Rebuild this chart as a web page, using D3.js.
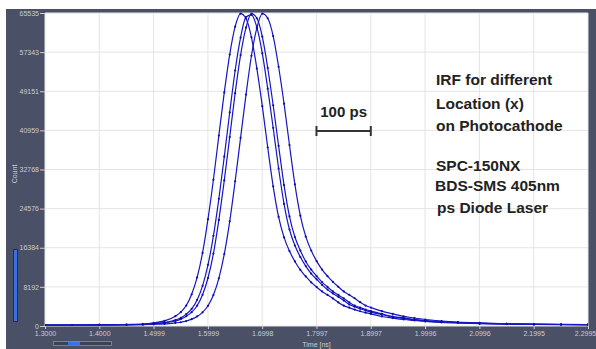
<!DOCTYPE html>
<html><head><meta charset="utf-8">
<script src="https://cdn.jsdelivr.net/npm/d3@7"></script>
<style>body{margin:0;background:#fff}svg{display:block}</style>
</head><body><svg id="c" width="596" height="349"></svg>
<script>
const times = [1.30,1.35,1.40,1.45,1.48,1.50,1.52,1.54,
 1.55,1.56,1.57,1.58,1.59,1.60,1.61,1.62,1.63,1.64,1.65,1.66,1.67,1.68,1.69,1.70,1.71,1.72,1.73,1.74,
 1.75,1.76,1.77,1.78,1.79,1.80,1.81,1.82,1.83,1.84,1.85,1.86,1.87,1.88,1.89,1.90,
 1.92,1.94,1.96,1.98,2.00,2.03,2.06,2.10,2.15,2.20,2.25,2.2995];
const irf1 = [200,210,230,310,420,650,1060,2050,
 2900,4280,6640,10180,15290,22370,30620,39870,48910,56840,62670,65400,64380,60440,53890,46020,37370,29250,22830,18570,
 15680,13520,11750,10370,9130,8150,7230,6510,5770,4930,4260,3830,3430,3090,2790,2530,
 1990,1660,1360,1150,960,740,635,490,400,335,300,280];
const irf2 = [195,210,215,270,370,485,730,1260,
 1710,2480,3600,5460,8410,12800,18890,26630,35470,44710,53500,60380,64700,65150,62540,57100,49690,41500,32980,25580,
 20200,16860,14440,12540,10960,9780,8600,7620,6830,6110,5330,4510,4040,3610,3260,2920,
 2380,1900,1585,1300,1090,850,690,545,425,340,315,280];
const irf3 = [195,210,215,265,350,425,650,1050,
 1440,2040,2900,4250,6530,10050,15160,22210,30480,39550,48750,56720,62490,65400,64440,60580,54020,46220,37720,29510,
 22950,18630,15790,13520,11810,10440,9190,8180,7230,6510,5780,4970,4280,3850,3450,3100,
 2530,1985,1690,1370,1150,890,710,565,430,345,315,280];
const irf4 = [190,195,215,240,280,345,425,650,
 790,1040,1435,2010,2860,4230,6480,9980,15060,21910,30300,39400,48450,56580,62410,65400,64440,60710,54280,46550,
 37900,29640,23090,18700,15810,13580,11820,10440,9230,8200,7230,6530,5810,4980,4280,3860,
 3110,2540,2000,1680,1360,1050,820,635,470,380,330,300];
const xTicks = [1.3000,1.4000,1.4999,1.5999,1.6998,1.7997,1.8997,1.9996,2.0996,2.1995,2.2995];
const yTicks = [0,8192,16384,24576,32768,40959,49151,57343,65535];
const annotation1 = ["IRF for different","Location (x)","on Photocathode"];
const annotation2 = ["SPC-150NX","BDS-SMS 405nm","ps Diode Laser"];
const scaleBar = {start:1.7997, len:0.1, label:"100 ps"};

const svg = d3.select("#c");
const W=596,H=349, L=45,R=588,T=13,B=326;
const dark="#4a5066";
svg.append("rect").attr("x",6).attr("y",9).attr("width",W-6).attr("height",H-9).attr("fill",dark);
svg.append("rect").attr("x",L).attr("y",T).attr("width",R-L).attr("height",B-T).attr("fill","#fff");

const x = d3.scaleLinear().domain([1.3,2.2995]).range([L,R]);
const y = d3.scaleLinear().domain([0,65535]).range([B,T]);

// grid
const g = svg.append("g");
g.selectAll(".vg").data(xTicks).join("line").attr("x1",d=>x(d)).attr("x2",d=>x(d)).attr("y1",T).attr("y2",B).attr("stroke","#e4e4e4");
g.selectAll(".hg").data(yTicks).join("line").attr("y1",d=>y(d)).attr("y2",d=>y(d)).attr("x1",L).attr("x2",R).attr("stroke","#e4e4e4");

// axes
const font="'Liberation Sans', Arial, sans-serif";
const yAxis = svg.append("g").attr("transform",`translate(${L},0)`)
  .call(d3.axisLeft(y).tickValues(yTicks).tickFormat(d=>String(d)).tickSize(5).tickPadding(1));
const xAxis = svg.append("g").attr("transform",`translate(0,${B})`)
  .call(d3.axisBottom(x).tickValues(xTicks).tickFormat(d=>d.toFixed(4)).tickSize(3).tickPadding(2));
[yAxis,xAxis].forEach(a=>{
  a.select(".domain").remove();
  a.selectAll(".tick line").attr("stroke","#c8ccd6");
  a.selectAll(".tick text").attr("fill","#c8ccd6").attr("font-family",font).attr("font-size","7px");
});
// keep the last x label inside the window
xAxis.selectAll(".tick text").filter(d=>d===xTicks[xTicks.length-1]).attr("dx",-3);

svg.append("text").attr("x",(L+R)/2).attr("y",347).attr("text-anchor","middle")
  .attr("fill","#c8ccd6").attr("font-family",font).attr("font-size","7px").text("Time [ns]");
svg.append("text").attr("transform","translate(17,174) rotate(-90)").attr("text-anchor","middle")
  .attr("fill","#c8ccd6").attr("font-family",font).attr("font-size","7px").text("Count");

// sliders
svg.append("rect").attr("x",13.5).attr("y",249.5).attr("width",4).attr("height",72).attr("fill","#3b6fe0").attr("stroke","#2a2f3e").attr("stroke-width",1);
svg.append("rect").attr("x",53.5).attr("y",341.5).attr("width",58).attr("height",4).attr("fill","#3d4356").attr("stroke","#8a8f9c").attr("stroke-width",0.8);
svg.append("rect").attr("x",68).attr("y",342).attr("width",12).attr("height",3.5).attr("fill","#3b73e6");

// curves
svg.append("clipPath").attr("id","clp").append("rect").attr("x",L).attr("y",T-2).attr("width",R-L).attr("height",B-T+2);
const series=[irf1,irf2,irf3,irf4];
const line=d3.line().x((d,i)=>x(times[i])).y(d=>y(d)).curve(d3.curveMonotoneX);
const cg=svg.append("g").attr("clip-path","url(#clp)");
series.forEach(s=>{
  cg.append("path").attr("d",line(s)).attr("fill","none").attr("stroke","#1616c4").attr("stroke-width",1.2);
  cg.selectAll(null).data(s).join("circle").attr("cx",(d,i)=>x(times[i])).attr("cy",d=>y(d)).attr("r",1.1).attr("fill","#10109a");
});

// annotations
const tf="'Liberation Sans', Arial, sans-serif";
const a1y=[85,109,131], a2y=[171,191,213], a2x=[436,435,437];
annotation1.forEach((t,i)=>svg.append("text").attr("x",436).attr("y",a1y[i]).attr("font-family",tf).attr("font-weight","bold").attr("font-size","15.5px").attr("fill","#222").text(t));
annotation2.forEach((t,i)=>svg.append("text").attr("x",a2x[i]).attr("y",a2y[i]).attr("font-family",tf).attr("font-weight","bold").attr("font-size","15.5px").attr("fill","#222").text(t));

// scale bar
const sx0=x(scaleBar.start), sx1=x(scaleBar.start+scaleBar.len);
const sb=svg.append("g").attr("stroke","#333").attr("stroke-width",2);
sb.append("line").attr("x1",sx0).attr("x2",sx1).attr("y1",131).attr("y2",131);
sb.append("line").attr("x1",sx0).attr("x2",sx0).attr("y1",126).attr("y2",136);
sb.append("line").attr("x1",sx1).attr("x2",sx1).attr("y1",126).attr("y2",136);
svg.append("text").attr("x",(sx0+sx1)/2).attr("y",117).attr("text-anchor","middle").attr("font-family",tf).attr("font-weight","bold").attr("font-size","15px").attr("fill","#222").text(scaleBar.label);
</script></body></html>
